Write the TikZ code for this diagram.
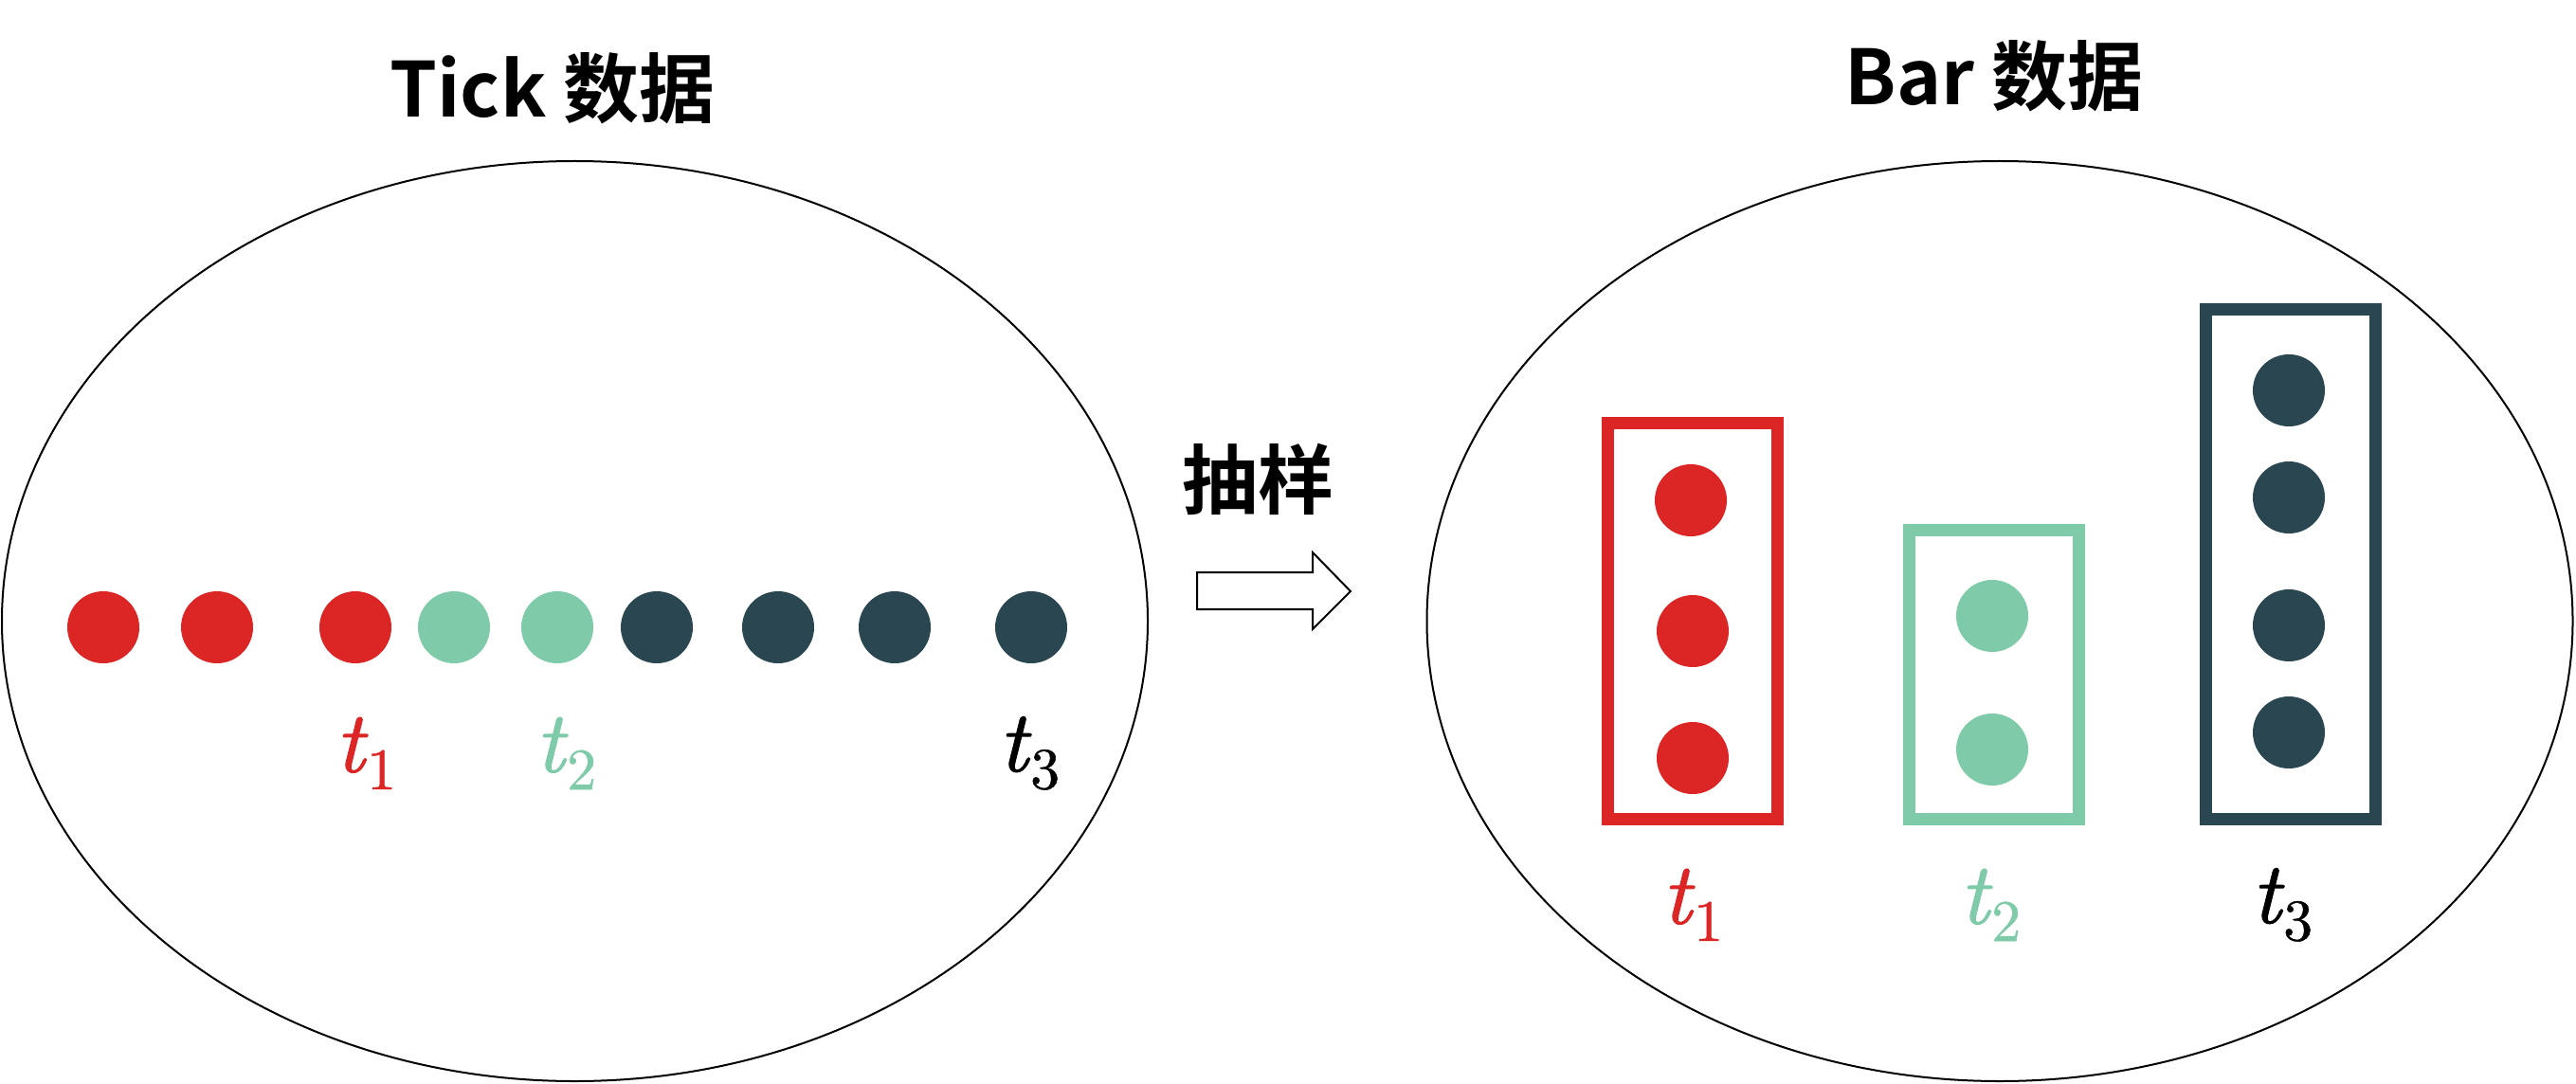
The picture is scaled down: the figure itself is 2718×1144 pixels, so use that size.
\documentclass[tikz,border=0pt]{standalone}
\usepackage{fontspec}
\newfontfamily\cjk{Noto Sans CJK SC}[BoldFont={Noto Sans CJK SC Bold}]
\newfontfamily\titfont{lmroman10-italic.otf}[FakeBold=1.2]
\newfontfamily\tupfont{lmroman10-regular.otf}[FakeBold=0.8]
\newcommand\tsub[1]{{\titfont t}\kern0.03em\raisebox{-0.2em}{\tupfont\fontsize{31}{32}\selectfont #1}}
\definecolor{cred}{HTML}{DC2626}
\definecolor{cgreen}{HTML}{7FCBA9}
\definecolor{cdark}{HTML}{2A4650}
\tikzset{
  dot/.style={circle,fill=#1,draw=none,minimum size=38pt,inner sep=0pt},
  barbox/.style={rectangle,draw=#1,line width=6.5pt,minimum width=89.5pt,inner sep=0pt},
  tlabel/.style={text=#1,inner sep=0pt,font=\fontsize{46}{48}\selectfont},
  titletext/.style={inner sep=0pt,font=\cjk\bfseries\fontsize{40}{44}\selectfont},
  region/.style={draw=black,line width=1pt},
}
\begin{document}
\begin{tikzpicture}[x=0.5pt,y=-0.5pt]
\useasboundingbox (0,0) rectangle (2718,1144);
% left region
\draw[region] (606.5,655.5) ellipse [x radius=604.5, y radius=485.5];
\node[titletext] (ticktitle) at (583,93) {Tick 数据};
\foreach \x/\c [count=\i] in {109/cred,229/cred,375/cred,479/cgreen,588/cgreen,693/cdark,821/cdark,944/cdark,1088/cdark}
  \node[dot=\c] (tick\i) at (\x,662) {};
\node[tlabel=cred] (lt1) at (386,795) {\tsub{1}};
\node[tlabel=cgreen] (lt2) at (597,795) {\tsub{2}};
\node[tlabel=black] (lt3) at (1086,795) {\tsub{3}};
% arrow
\node[titletext] (sample) at (1327,506) {抽样};
\draw[line width=1pt,line join=miter,fill=white] (1263,604) -- (1385,604) -- (1385,583) -- (1425,624) -- (1385,664) -- (1385,643) -- (1263,643) -- cycle;
% right region
\draw[region] (2110,655.5) ellipse [x radius=604.5, y radius=485.5];
\node[titletext] (bartitle) at (2104,80) {Bar 数据};
\node[barbox=cred,minimum height=209pt] (b1) at (1786,655) {};
\node[barbox=cgreen,minimum height=152.5pt] (b2) at (2104,711.5) {};
\node[barbox=cdark,minimum height=268.5pt] (b3) at (2416.5,595.5) {};
\node[dot=cred] (r1) at (1784,528) {};
\node[dot=cred] (r2) at (1786,666) {};
\node[dot=cred] (r3) at (1786,800) {};
\node[dot=cgreen] (g1) at (2102,650) {};
\node[dot=cgreen] (g2) at (2102,791) {};
\node[dot=cdark] (d1) at (2415,412) {};
\node[dot=cdark] (d2) at (2415,525) {};
\node[dot=cdark] (d3) at (2415,660) {};
\node[dot=cdark] (d4) at (2415,773) {};
\node[tlabel=cred] (rt1) at (1786,955) {\tsub{1}};
\node[tlabel=cgreen] (rt2) at (2100,955) {\tsub{2}};
\node[tlabel=black] (rt3) at (2408,955) {\tsub{3}};
\end{tikzpicture}
\end{document}
